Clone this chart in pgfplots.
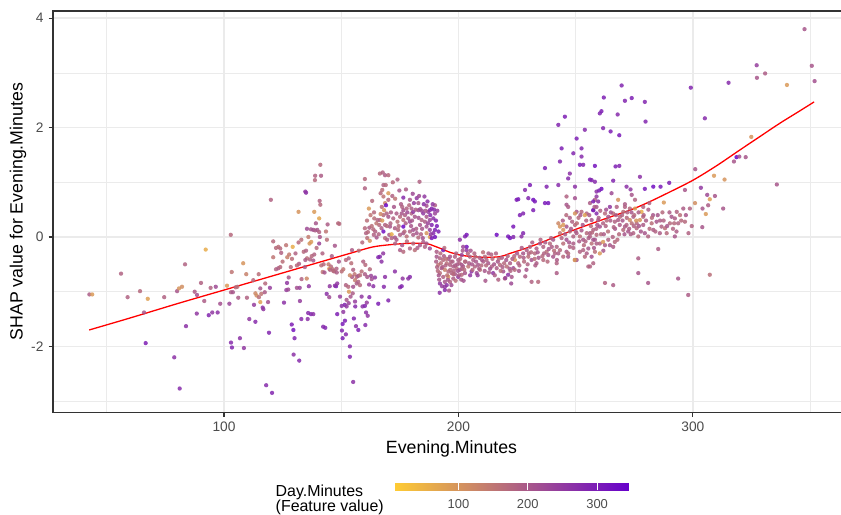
\documentclass[border=0pt]{standalone}
\usepackage{fontspec}
\setmainfont{Liberation Sans}
\usepackage{pgfplots}
\usepackage{pgfplotstable}
\pgfplotsset{compat=1.18}

\definecolor{gray92}{gray}{0.92}
\definecolor{gray20}{gray}{0.20}
\definecolor{gray30}{gray}{0.30}
\pgfplotsset{colormap={dayminutes}{rgb255=(255,204,51) rgb255=(102,0,204)}}

% Evening.Minutes, SHAP value, Day.Minutes
\pgfplotstableread{
x y c
42.6 -1.05 190
43.8 -1.05 90
56.1 -0.67 180
58.9 -1.10 180
64.2 -0.99 170
67.5 -1.13 80
65.9 -1.38 200
66.6 -1.94 290
74.5 -1.10 180
78.8 -2.20 260
81.1 -2.77 270
80.0 -0.99 200
80.8 -0.94 100
82.1 -0.91 110
83.4 -0.50 180
83.8 -1.63 260
87.5 -1.00 190
88.5 -1.06 210
88.4 -1.40 250
90.2 -0.84 180
92.2 -0.23 60
91.6 -1.17 190
93.5 -1.43 280
94.3 -0.93 180
95.0 -1.38 250
97.3 -1.38 260
96.5 -0.91 220
98.4 -1.22 210
101.3 -0.89 90
102.9 0.04 170
103.3 -0.64 150
102.3 -1.22 230
103.0 -1.01 190
103.8 -1.01 200
103.0 -1.93 270
103.4 -2.02 280
105.0 -0.92 170
105.7 -0.91 160
106.1 -1.11 190
106.8 -1.85 260
108.2 -0.48 100
109.5 -0.68 130
108.5 -2.03 250
109.8 -1.11 180
110.8 -1.50 250
112.5 -0.79 170
112.8 -1.24 240
113.4 -1.55 270
113.4 -1.03 120
113.9 -1.07 110
114.9 -1.10 160
115.9 -1.04 150
114.8 -0.68 160
115.5 -1.19 80
115.5 -0.94 200
116.5 -1.29 260
116.8 -1.32 250
117.4 -1.01 190
117.6 -0.85 170
118.8 -1.19 210
119.2 -1.75 280
119.6 -0.93 240
120.0 0.68 180
118.0 -2.71 270
120.5 -2.85 280
121.0 -0.08 170
121.0 -0.37 150
122.2 -0.20 170
123.2 -0.18 160
124.0 -0.21 170
124.4 -0.29 180
122.2 -0.59 180
123.2 -0.57 190
124.0 -0.55 170
125.6 -1.20 260
126.6 -0.97 240
127.4 -0.96 220
126.9 -0.84 250
127.6 -0.74 200
127.0 -0.37 130
127.8 -0.32 140
129.0 -0.40 160
129.3 -0.18 60
128.9 -1.60 290
129.6 -1.70 310
130.1 -1.85 280
129.7 -2.15 260
132.1 -2.26 270
131.8 -0.10 170
131.8 0.46 100
132.0 -0.49 190
131.1 -0.52 170
131.1 -0.93 210
132.3 -0.93 230
132.4 -1.17 240
133.0 -1.50 270
133.1 -0.77 180
134.0 -0.27 170
135.0 -0.25 180
134.7 0.83 250
135.0 0.81 260
135.3 -0.76 120
135.7 -1.50 260
136.2 -0.90 250
136.5 -0.12 100
137.2 -0.09 90
135.4 0.15 220
137.1 0.14 200
138.1 0.13 210
138.9 0.12 190
139.8 0.13 200
140.6 0.09 180
135.9 -1.39 270
137.1 -1.41 280
138.1 -1.41 260
137.4 -0.35 170
138.5 -0.32 180
138.1 -0.43 200
136.7 -0.41 180
135.4 -0.39 160
134.7 -0.42 190
138.8 1.04 170
138.9 1.12 180
141.1 1.32 170
141.4 1.12 190
140.8 0.66 180
141.1 0.59 170
140.6 0.34 70
138.5 0.46 90
139.2 0.25 200
140.9 0.00 200
140.6 -0.12 230
141.5 -0.52 160
142.5 -0.50 170
142.1 -0.64 150
142.9 -0.65 200
142.3 -1.64 270
143.2 -1.66 280
143.8 -1.04 260
144.2 0.23 190
143.9 -0.05 160
144.6 -0.50 140
145.6 -0.54 170
144.9 -0.58 90
145.1 -0.90 250
144.9 -1.10 220
147.8 -0.90 300
148.3 -1.41 290
148.7 0.25 170
146.4 -0.59 160
147.0 -0.63 170
148.0 -0.58 180
147.3 -0.16 200
149.2 0.24 170
145.2 -0.60 180
146.6 -0.62 170
148.1 -0.65 190
150.2 -0.63 160
150.9 -0.59 150
147.3 -0.89 260
148.3 -0.85 250
149.5 -1.09 240
150.2 -1.26 260
151.5 -1.24 280
150.9 -1.37 250
150.6 -1.59 300
151.6 -1.53 290
150.3 -1.71 280
152.0 -1.78 270
150.6 -1.85 290
152.0 -0.42 170
153.2 -0.39 180
154.6 -0.24 190
154.3 -0.48 160
152.0 -0.88 180
153.0 -0.91 170
153.3 -1.00 90
154.0 -1.09 200
154.9 -1.03 190
152.3 -1.15 200
153.2 -1.21 230
152.3 -1.27 250
155.1 -0.60 180
155.7 -0.68 150
156.6 -0.73 170
157.3 -0.71 200
158.0 -0.70 160
155.9 -0.79 140
157.3 -0.82 180
154.6 -0.73 190
153.7 -0.70 120
155.1 -0.91 210
156.6 -0.85 190
158.0 -0.88 170
153.7 -2.00 270
153.7 -2.19 280
155.1 -2.65 260
155.9 -1.18 240
156.0 -1.27 270
155.4 -1.49 280
156.3 -1.63 260
157.3 -1.70 290
158.7 -1.09 250
159.1 -1.27 260
160.1 -1.26 280
160.9 -1.20 240
162.0 -1.10 270
160.6 -1.38 260
161.3 -1.44 250
160.3 -1.61 270
159.4 -0.45 180
160.3 -0.51 170
158.7 -0.63 160
160.1 -0.68 190
161.1 -0.73 200
162.2 -0.59 170
163.0 -0.77 210
161.9 -0.87 240
164.4 -0.74 250
163.7 -0.90 260
162.7 -0.71 230
160.6 0.07 180
161.4 0.09 170
162.0 0.17 190
163.0 0.20 160
163.7 0.14 170
161.1 -0.02 160
162.2 -0.07 100
163.9 0.04 180
165.1 -0.01 200
160.1 0.16 170
160.1 1.06 170
160.1 0.89 180
163.2 0.66 170
161.8 0.52 90
164.1 0.34 160
165.5 0.31 180
166.2 0.22 170
167.2 0.16 190
166.5 1.16 170
167.7 1.18 180
168.7 1.13 190
170.1 1.13 170
168.0 0.95 180
167.5 0.86 160
166.8 0.80 170
168.0 0.74 150
168.7 0.62 120
167.3 0.55 160
168.3 0.49 100
169.4 0.43 180
170.1 0.37 200
168.0 0.40 170
166.5 0.31 180
169.1 0.58 330
170.1 0.80 90
170.1 0.68 170
168.0 0.10 320
168.7 0.22 180
170.8 0.19 200
170.5 0.04 200
171.5 0.05 60
168.7 -0.02 170
169.6 -0.05 190
171.5 -0.02 180
172.9 -0.01 200
173.6 -0.05 190
166.5 -0.36 270
167.2 -0.45 260
167.9 -0.30 250
165.8 -0.37 280
168.7 -0.73 260
168.2 -0.91 270
170.1 -1.16 280
165.8 -1.22 290
172.9 -0.63 260
175.1 -0.92 270
175.8 -0.90 280
176.2 -0.76 250
179.3 -0.73 270
178.6 -0.76 260
172.2 0.34 180
173.6 0.43 190
175.1 0.37 170
175.8 0.43 200
176.5 0.49 210
177.9 0.52 180
177.2 0.40 190
176.5 0.31 160
178.6 0.34 200
179.3 0.28 220
180.0 0.43 180
180.7 0.46 250
181.4 0.37 200
180.0 0.52 190
176.5 0.19 330
172.9 0.16 190
174.3 0.13 170
175.1 0.04 180
176.5 0.07 200
177.9 0.01 160
179.3 0.10 180
180.7 0.04 190
182.2 0.07 200
180.7 0.13 210
182.9 -0.01 170
177.6 0.87 190
176.5 0.72 270
179.3 0.68 200
180.5 0.79 220
182.2 0.71 250
182.9 0.62 200
183.4 1.01 180
185.5 0.74 250
184.4 0.48 230
183.7 0.51 210
182.9 0.49 220
185.0 0.43 250
186.4 0.37 200
187.8 0.31 230
189.3 0.34 260
187.1 0.46 240
188.6 0.22 280
190.0 0.13 290
189.3 0.07 270
186.4 0.19 210
187.8 0.13 240
185.7 0.28 190
184.3 0.31 180
183.6 0.22 200
187.8 0.49 260
190.0 0.58 190
186.4 0.57 210
188.6 0.52 280
190.0 0.43 230
186.4 0.07 100
187.8 0.00 80
188.6 -0.02 300
190.0 0.00 310
180.7 -0.12 170
183.6 -0.15 200
185.0 -0.09 190
185.7 -0.18 180
186.4 -0.12 200
187.8 -0.21 220
181.4 -0.24 160
179.3 -0.21 180
176.5 -0.27 170
175.1 -0.24 190
171.0 0.25 180
172.5 0.55 200
174.0 0.28 160
175.5 0.60 190
177.0 0.10 170
178.2 0.45 220
179.8 0.20 200
181.0 0.62 240
182.0 0.15 190
183.0 0.35 210
184.0 0.05 180
185.2 0.60 260
186.0 0.48 200
187.0 0.25 230
188.0 0.40 270
189.0 0.60 250
190.4 0.30 280
191.0 0.48 240
191.5 0.10 290
173.0 -0.12 180
176.0 -0.15 200
178.0 -0.08 170
182.5 -0.20 190
184.8 -0.02 210
164.0 0.45 170
165.0 0.25 150
166.0 0.05 180
167.5 0.30 90
169.5 0.20 170
171.8 0.75 180
174.8 0.85 200
161.0 0.30 160
159.0 -0.10 170
157.5 -0.25 160
162.5 0.40 150
164.5 0.10 180
166.8 0.42 120
169.0 0.95 170
171.2 0.45 190
173.0 0.70 150
174.5 0.20 170
176.0 0.55 180
177.5 0.25 190
179.0 0.58 170
180.2 0.30 200
181.8 0.50 190
183.2 0.75 220
184.5 0.15 200
186.8 0.65 260
188.2 0.05 250
189.6 0.50 270
190.8 0.20 300
172.0 1.00 170
174.0 1.05 180
190.7 -0.36 200
192.1 -0.39 180
193.5 -0.42 170
195.0 -0.48 160
196.4 -0.51 180
197.8 -0.54 190
199.2 -0.57 170
191.4 -0.51 150
192.8 -0.57 200
194.2 -0.60 130
195.7 -0.63 170
197.1 -0.66 180
198.5 -0.68 200
200.6 -0.60 210
202.0 -0.54 190
192.1 -0.66 160
193.5 -0.73 180
194.2 -0.82 200
192.1 -0.85 250
195.0 -0.88 260
196.4 -0.82 180
195.7 -0.73 90
197.8 -0.76 190
199.9 -0.73 250
201.4 -0.69 170
202.8 -0.66 200
194.2 -0.97 270
194.2 -0.91 250
190.7 -0.27 190
193.5 -0.24 300
203.5 -0.18 310
202.8 0.01 280
203.5 -0.24 250
201.4 -0.33 230
199.9 -0.42 190
198.5 -0.36 180
196.4 -0.36 200
190.5 -0.45 190
191.2 -0.62 170
191.8 -0.78 200
192.5 -0.48 160
193.0 -0.90 240
193.8 -0.35 190
194.5 -0.52 180
195.2 -0.70 150
195.8 -0.40 200
196.5 -0.60 170
197.0 -0.88 220
197.5 -0.45 190
198.0 -0.62 180
198.8 -0.80 160
199.5 -0.50 200
200.2 -0.70 190
200.8 -0.40 170
201.5 -0.58 180
202.2 -0.80 210
203.0 -0.45 190
192.0 -1.02 260
196.0 -0.98 200
199.0 -0.30 180
201.8 -0.25 200
194.0 -0.20 170
190.9 -0.55 180
191.6 -0.70 200
192.3 -0.30 170
193.2 -0.55 190
194.8 -0.40 160
195.5 -0.78 200
196.8 -0.45 180
197.8 -0.68 170
198.6 -0.52 190
199.8 -0.62 210
200.5 -0.48 180
201.2 -0.78 200
202.5 -0.60 170
203.5 0.04 300
200.6 -0.05 260
202.0 -0.18 230
204.9 -0.36 180
206.3 -0.42 190
202.8 -0.45 170
201.4 -0.51 200
204.2 -0.54 150
207.0 -0.54 180
208.4 -0.51 200
209.2 -0.60 160
207.8 -0.66 220
205.6 -0.63 260
210.6 -0.45 190
211.3 -0.36 170
212.7 -0.48 200
214.2 -0.54 180
214.8 -0.66 250
216.3 -0.57 190
217.7 -0.51 170
219.1 -0.63 210
220.6 -0.54 160
222.0 -0.48 190
221.2 -0.69 260
219.8 -0.76 180
222.7 -0.73 200
223.4 -0.57 220
224.1 -0.42 100
225.5 -0.48 180
226.2 -0.36 170
227.6 -0.30 200
229.1 -0.24 190
230.5 -0.18 180
229.8 -0.36 160
231.2 -0.42 210
232.6 -0.30 170
233.3 -0.21 190
234.8 -0.12 200
236.2 -0.18 180
237.6 -0.27 160
239.0 -0.12 170
240.4 -0.05 200
241.9 -0.18 180
242.6 -0.30 190
243.3 -0.24 170
244.7 -0.12 160
243.3 0.07 150
244.7 0.13 100
246.1 0.19 200
247.5 0.10 170
249.0 0.01 180
250.4 0.07 190
251.8 0.01 160
253.2 -0.05 200
254.7 0.07 170
256.1 0.01 180
257.5 -0.05 210
258.9 -0.12 190
246.1 -0.05 210
247.5 -0.18 180
244.7 -0.36 170
246.1 -0.27 190
240.4 -0.36 200
241.9 -0.48 180
236.2 -0.42 170
233.3 -0.48 190
231.2 -0.82 180
234.0 -0.82 170
238.3 -0.33 200
249.0 -0.12 190
249.7 -0.42 170
253.2 -0.24 180
255.4 -0.21 200
256.8 -0.12 160
255.4 -0.54 180
249.7 0.22 170
242.6 0.25 120
243.3 0.19 100
244.7 0.22 90
216.3 0.04 320
221.2 0.01 300
222.0 -0.02 310
223.4 0.00 280
223.4 0.19 300
226.9 0.01 260
227.6 0.07 280
224.8 0.68 290
225.5 0.69 300
226.2 0.40 290
227.6 0.43 280
228.4 0.86 270
229.8 0.71 280
230.5 0.95 290
231.9 0.68 320
232.6 0.65 300
231.9 0.49 290
236.9 0.62 300
238.3 0.62 310
236.9 1.26 290
237.6 0.92 280
242.6 0.95 270
243.3 1.38 280
244.0 1.62 290
242.6 2.05 280
245.4 2.20 290
246.8 1.07 270
247.5 1.16 260
249.0 1.53 280
249.7 0.92 260
250.4 1.80 290
252.5 1.62 280
252.5 1.47 270
251.8 1.32 300
253.2 1.32 280
253.9 1.96 270
256.1 1.05 290
256.8 1.04 280
258.2 1.01 270
260.3 2.26 280
258.9 0.83 260
246.1 0.59 200
246.1 0.74 180
246.8 0.55 190
249.7 0.71 210
250.4 0.46 200
252.5 0.46 170
254.7 0.43 180
256.1 0.62 190
257.5 0.49 300
258.2 0.68 180
258.9 0.55 200
253.9 0.40 80
249.7 0.43 100
250.4 -0.42 200
251.8 -0.27 180
253.9 -0.36 170
254.7 -0.30 190
256.8 -0.36 210
257.5 -0.48 180
258.2 -0.27 160
241.9 -0.66 190
246.8 -0.36 200
204.5 -0.48 190
205.2 -0.25 200
206.0 -0.60 170
206.8 -0.30 180
207.5 -0.45 200
208.2 -0.70 240
209.0 -0.38 190
209.8 -0.52 170
210.5 -0.28 160
211.2 -0.62 200
212.0 -0.42 180
212.8 -0.30 190
213.5 -0.58 210
214.5 -0.40 170
215.5 -0.70 190
216.0 -0.30 180
216.8 -0.45 200
218.0 -0.62 160
218.5 -0.38 190
219.5 -0.48 170
220.0 -0.75 230
221.0 -0.35 180
221.8 -0.58 200
223.0 -0.40 190
224.0 -0.60 170
225.0 -0.30 200
226.0 -0.52 180
227.0 -0.20 190
228.0 -0.45 170
229.0 -0.60 200
230.0 -0.30 180
231.5 -0.10 190
232.5 -0.40 160
233.8 -0.28 200
235.0 -0.05 180
235.8 -0.35 170
237.0 -0.10 190
238.5 -0.22 200
239.5 -0.02 180
240.8 -0.25 160
242.0 -0.42 190
205.0 -0.70 250
211.5 -0.80 200
217.0 -0.78 180
222.5 -0.85 220
228.5 -0.72 190
204.0 -0.30 180
205.8 -0.50 200
207.2 -0.36 170
208.8 -0.58 190
210.0 -0.42 200
211.8 -0.52 170
213.0 -0.65 190
214.0 -0.32 180
215.2 -0.50 200
217.2 -0.40 170
218.8 -0.55 190
220.4 -0.42 200
222.2 -0.62 180
223.8 -0.35 170
225.8 -0.62 200
227.8 -0.38 190
229.5 -0.50 180
231.0 -0.28 170
232.8 -0.52 190
234.2 -0.38 200
236.5 -0.30 180
238.0 -0.45 170
239.8 -0.18 190
241.2 -0.30 180
269.6 2.77 280
262.0 2.55 290
271.0 2.49 280
273.9 2.54 290
279.5 2.47 280
261.0 2.30 290
267.9 2.24 270
279.8 2.11 280
299.1 2.73 280
305.1 2.17 270
261.7 1.99 280
264.9 1.93 290
268.6 1.86 300
258.2 1.30 310
267.0 1.29 290
268.6 1.30 280
266.0 1.03 280
277.4 1.10 260
261.0 0.88 320
260.0 0.85 290
271.7 0.92 260
273.4 0.87 250
279.5 0.88 300
283.1 0.92 320
286.2 0.92 300
289.9 0.99 290
258.9 0.74 250
257.5 0.65 290
259.6 0.65 260
265.3 0.80 220
273.9 0.77 200
275.3 0.68 180
281.4 0.62 180
287.6 0.63 90
296.6 0.86 200
301.0 1.24 200
303.4 0.90 250
306.1 0.77 220
307.2 0.69 80
309.4 0.75 200
309.0 1.12 90
305.5 0.42 90
304.1 0.52 200
306.5 0.58 190
300.9 0.62 110
298.7 0.52 180
296.6 0.28 170
293.7 0.25 180
292.3 0.34 190
290.9 0.37 200
290.2 0.25 170
288.1 0.16 160
286.6 0.19 180
285.9 0.07 190
288.8 0.07 170
284.5 0.28 200
282.4 0.25 160
280.9 0.01 180
283.1 0.13 190
292.3 0.01 200
298.1 0.07 180
294.5 0.40 160
293.1 0.46 180
295.9 0.52 190
278.8 0.37 170
277.4 0.31 100
276.0 0.25 180
274.6 0.37 190
273.9 0.25 160
273.1 0.31 120
271.7 0.22 180
270.3 0.13 170
271.0 0.19 190
272.4 0.10 200
274.6 0.07 180
276.0 0.16 170
278.8 0.22 190
279.5 0.07 200
276.7 0.01 170
278.1 0.46 60
275.3 0.52 90
273.1 0.52 170
271.0 0.55 180
270.3 0.46 160
268.1 0.68 100
264.6 0.55 250
262.5 0.43 170
261.7 0.25 180
263.9 0.37 200
266.0 0.43 160
266.7 0.28 180
268.1 0.31 190
268.9 0.37 170
257.5 0.49 290
258.9 0.43 270
256.8 0.31 200
259.6 0.31 190
260.3 0.19 210
257.5 0.13 180
258.9 0.04 170
256.1 0.07 190
258.2 -0.05 200
260.3 -0.12 180
261.7 -0.09 90
262.5 -0.15 190
263.9 -0.05 180
264.6 -0.15 200
266.7 -0.09 170
266.0 -0.18 190
256.1 -0.54 180
276.7 -0.39 190
276.7 -0.66 200
285.2 -0.22 190
280.9 -0.84 200
262.5 -0.84 180
266.0 -0.88 190
293.7 -0.76 200
298.0 -1.06 190
307.2 -0.69 160
260.3 -0.30 90
249.6 -0.42 90
304.0 0.18 200
244.0 -0.02 180
245.5 0.05 190
246.8 -0.30 170
248.0 0.15 200
249.0 -0.20 180
250.5 0.25 160
251.5 -0.08 190
252.5 0.12 200
253.5 -0.15 170
254.5 0.30 180
255.5 -0.02 190
256.5 0.20 170
257.8 -0.20 200
258.8 0.15 180
259.8 0.35 190
260.8 0.05 170
261.8 -0.25 200
262.8 0.20 180
263.8 0.10 160
264.8 0.30 190
265.8 0.00 180
266.8 0.15 200
267.8 -0.05 170
268.8 0.22 190
269.8 0.40 180
270.8 0.05 200
271.8 0.35 170
272.8 0.15 190
273.8 0.45 200
274.8 0.20 180
275.8 0.30 100
276.8 0.45 190
277.8 0.10 200
278.8 0.55 180
280.0 0.30 190
281.5 0.15 170
283.0 0.40 200
284.0 0.10 180
286.0 0.30 190
287.0 0.45 170
289.0 0.20 200
291.5 0.15 180
293.0 0.10 190
295.0 0.30 170
297.0 0.40 200
299.5 0.20 180
247.5 0.35 190
252.0 0.40 200
258.0 0.55 190
263.0 0.50 210
267.5 0.55 180
271.0 0.60 190
244.5 0.30 190
246.0 0.40 170
247.2 -0.10 200
248.5 0.28 180
250.0 0.10 190
251.2 0.35 170
253.0 0.22 200
254.2 -0.08 180
255.8 0.40 190
257.0 0.08 170
259.2 0.22 200
260.5 0.48 180
262.0 0.05 190
263.2 0.30 170
265.0 0.45 200
266.2 0.18 180
267.2 0.40 190
268.5 0.05 170
270.0 0.30 200
272.0 0.45 180
273.5 0.05 190
275.0 0.40 170
277.0 0.20 200
279.0 0.40 180
281.0 0.50 190
282.5 0.35 170
285.0 0.40 200
287.5 0.30 180
290.0 0.45 190
292.0 0.25 170
125.0 -0.45 160
126.5 -0.15 150
128.5 -0.55 170
130.5 -0.30 180
133.0 -0.05 160
134.5 -0.55 190
136.0 0.00 140
139.5 -0.20 170
142.0 -0.30 180
143.5 0.10 150
146.0 -0.35 190
149.0 -0.45 200
347.6 3.80 200
327.2 3.14 240
330.8 2.99 190
327.3 2.91 200
350.7 3.13 200
351.9 2.85 210
315.2 2.82 270
340.1 2.78 90
324.9 1.83 100
318.6 1.46 340
317.5 1.38 200
322.5 1.46 200
319.8 1.47 210
335.8 0.96 200
313.5 1.05 100
312.9 0.52 200
}\shapdata

\begin{document}
\begin{tikzpicture}
\path[use as bounding box] (0,0) rectangle (841bp,515bp);
\begin{axis}[
  at={(53bp,102.7bp)}, anchor=south west,
  scale only axis, width=797bp, height=401.3bp,
  xmin=27.08, xmax=367.0, ymin=-3.205, ymax=4.132,
  xtick={100,200,300}, minor xtick={50,150,250,350},
  ytick={-2,0,2,4}, minor ytick={-3,-1,1,3},
  grid=both,
  major grid style={color=gray92, line width=1.6bp},
  minor grid style={color=gray92, line width=0.8bp},
  axis line style={color=gray20, line width=1.1bp},
  tick align=outside, major tick length=4.4bp, minor tick length=0pt,
  tick style={color=gray20, line width=1.1bp},
  xtick pos=bottom, ytick pos=left,
  xticklabel shift=5bp, yticklabel shift=5bp,
  ticklabel style={font=\fontsize{13.8}{14}\selectfont, text=gray30, inner sep=0pt},
  /pgf/number format/assume math mode=true,
  xlabel={Evening.Minutes},
  xlabel style={at={(axis description cs:0.5,0)}, anchor=north, yshift=-27.7bp,
    inner sep=0pt, font=\fontsize{17.8}{18}\selectfont},
  ylabel={SHAP value for Evening.Minutes},
  ylabel style={at={(axis description cs:-0.0439,0.5)}, anchor=center,
    inner sep=0pt, font=\fontsize{17.8}{18}\selectfont},
  colormap name=dayminutes,
  point meta min=7, point meta max=346,
  colorbar horizontal,
  colorbar style={
    at={(parent axis.south west)}, anchor=north west,
    xshift=341bp, yshift=-62.5bp,
    width=235bp, height=7bp,
    xtick={100,200,300},
    tick align=inside, major tick length=7bp,
    tick style={color=white, line width=0.8bp},
    axis line style={draw=none},
    xticklabel shift=9bp,
    xticklabel style={font=\fontsize{13}{13}\selectfont, text=gray30, inner sep=0pt},
    /pgf/number format/assume math mode=true,
  },
]
\addplot[scatter, only marks, mark=*, mark size=2.15bp, scatter src=explicit,
  scatter/use mapped color={draw=mapped color, fill=mapped color, draw opacity=0, fill opacity=0.85}]
  table[x=x, y=y, meta=c] {\shapdata};
\addplot[red, line width=1.3bp, smooth, no marks] coordinates {
  (42.5,-1.70) (60,-1.48) (80,-1.22) (100,-0.97) (120,-0.72) (140,-0.47)
  (153.7,-0.30) (163.7,-0.18) (173.6,-0.13) (180,-0.115) (186.4,-0.12)
  (189.3,-0.16) (193,-0.22) (196.4,-0.28) (202,-0.34) (210.6,-0.37)
  (217.7,-0.36) (222,-0.30) (230.5,-0.18) (241.9,0.01) (253.2,0.19)
  (263,0.34) (273.1,0.49) (280.3,0.62) (290,0.82) (300.1,1.04)
  (310,1.30) (320,1.59) (328,1.82) (337.1,2.08) (345,2.29) (351.7,2.47)
};
\end{axis}
\node[anchor=base west, inner sep=0pt, font=\fontsize{16}{17}\selectfont] at (275.5bp,18.3bp) {Day.Minutes};
\node[anchor=base west, inner sep=0pt, font=\fontsize{16}{17}\selectfont] at (275.5bp,3.3bp) {(Feature value)};
\end{tikzpicture}
\end{document}
